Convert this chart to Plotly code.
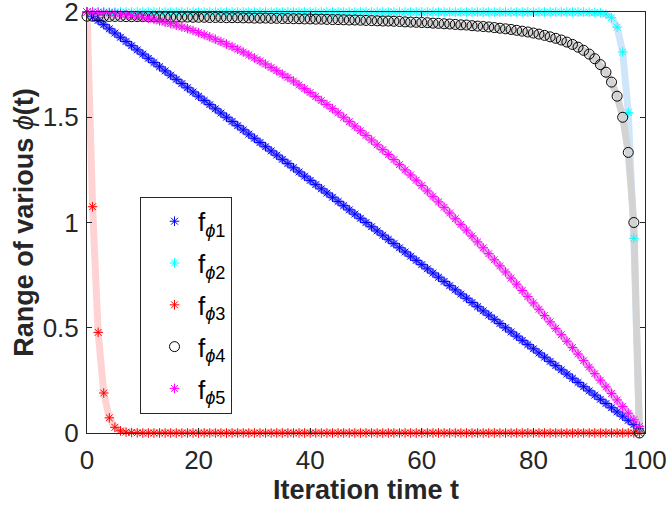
import plotly.graph_objects as go

# iteration index t = 0..99
t = list(range(100))

phi1 = [2.00,1.98,1.96,1.94,1.92,1.90,1.88,1.86,1.84,1.82,
        1.80,1.78,1.76,1.74,1.72,1.70,1.68,1.66,1.64,1.62,
        1.60,1.58,1.56,1.54,1.52,1.50,1.48,1.46,1.44,1.42,
        1.40,1.38,1.36,1.34,1.32,1.30,1.28,1.26,1.24,1.22,
        1.20,1.18,1.16,1.14,1.12,1.10,1.08,1.06,1.04,1.02,
        1.00,0.98,0.96,0.94,0.92,0.90,0.88,0.86,0.84,0.82,
        0.80,0.78,0.76,0.74,0.72,0.70,0.68,0.66,0.64,0.62,
        0.60,0.58,0.56,0.54,0.52,0.50,0.48,0.46,0.44,0.42,
        0.40,0.38,0.36,0.34,0.32,0.30,0.28,0.26,0.24,0.22,
        0.20,0.18,0.16,0.14,0.12,0.10,0.08,0.06,0.04,0.02]

phi2 = [2.000,2.000,2.000,2.000,2.000,2.000,2.000,2.000,2.000,2.000,
        2.000,2.000,2.000,2.000,2.000,2.000,2.000,2.000,2.000,2.000,
        2.000,2.000,2.000,2.000,2.000,2.000,2.000,2.000,2.000,2.000,
        2.000,2.000,2.000,2.000,2.000,2.000,2.000,2.000,2.000,2.000,
        2.000,2.000,2.000,2.000,2.000,2.000,2.000,2.000,2.000,2.000,
        2.000,2.000,2.000,2.000,2.000,2.000,2.000,2.000,2.000,2.000,
        2.000,2.000,2.000,2.000,2.000,2.000,2.000,2.000,2.000,2.000,
        2.000,2.000,2.000,2.000,2.000,2.000,2.000,2.000,2.000,2.000,
        2.000,2.000,2.000,2.000,2.000,2.000,2.000,2.000,2.000,2.000,
        1.999,1.998,1.996,1.990,1.973,1.928,1.810,1.522,0.925,0.000]

phi3 = [2.000,1.075,0.478,0.190,0.072,0.027,0.010,0.004,0.002,0.001,
        0.000,0.000,0.000,0.000,0.000,0.000,0.000,0.000,0.000,0.000,
        0.000,0.000,0.000,0.000,0.000,0.000,0.000,0.000,0.000,0.000,
        0.000,0.000,0.000,0.000,0.000,0.000,0.000,0.000,0.000,0.000,
        0.000,0.000,0.000,0.000,0.000,0.000,0.000,0.000,0.000,0.000,
        0.000,0.000,0.000,0.000,0.000,0.000,0.000,0.000,0.000,0.000,
        0.000,0.000,0.000,0.000,0.000,0.000,0.000,0.000,0.000,0.000,
        0.000,0.000,0.000,0.000,0.000,0.000,0.000,0.000,0.000,0.000,
        0.000,0.000,0.000,0.000,0.000,0.000,0.000,0.000,0.000,0.000,
        0.000,0.000,0.000,0.000,0.000,0.000,0.000,0.000,0.000,0.000]

phi4 = [1.980,1.980,1.980,1.979,1.979,1.979,1.979,1.978,1.978,1.978,
        1.978,1.978,1.977,1.977,1.977,1.976,1.976,1.976,1.976,1.975,
        1.975,1.975,1.974,1.974,1.974,1.973,1.973,1.973,1.972,1.972,
        1.971,1.971,1.971,1.970,1.970,1.969,1.969,1.968,1.968,1.967,
        1.967,1.966,1.966,1.965,1.964,1.964,1.963,1.962,1.962,1.961,
        1.960,1.959,1.958,1.957,1.957,1.956,1.955,1.953,1.952,1.951,
        1.950,1.949,1.947,1.946,1.944,1.943,1.941,1.939,1.938,1.935,
        1.933,1.931,1.929,1.926,1.923,1.920,1.917,1.913,1.909,1.905,
        1.900,1.895,1.889,1.882,1.875,1.867,1.857,1.846,1.833,1.818,
        1.800,1.778,1.750,1.714,1.667,1.600,1.500,1.333,1.000,0.000]

phi5 = [2.000,2.000,1.999,1.998,1.996,1.994,1.991,1.988,1.984,1.980,
        1.975,1.970,1.965,1.958,1.952,1.945,1.937,1.929,1.921,1.912,
        1.902,1.892,1.882,1.871,1.860,1.848,1.836,1.823,1.810,1.796,
        1.782,1.768,1.753,1.737,1.721,1.705,1.689,1.672,1.654,1.636,
        1.618,1.599,1.580,1.561,1.541,1.521,1.500,1.479,1.458,1.436,
        1.414,1.392,1.369,1.346,1.323,1.299,1.275,1.250,1.226,1.201,
        1.176,1.150,1.124,1.098,1.072,1.045,1.018,0.991,0.964,0.936,
        0.908,0.880,0.852,0.823,0.794,0.765,0.736,0.707,0.677,0.648,
        0.618,0.588,0.558,0.528,0.497,0.467,0.436,0.406,0.375,0.344,
        0.313,0.282,0.251,0.219,0.188,0.157,0.126,0.094,0.063,0.031]

series = [phi1, phi2, phi3, phi4, phi5]
names = ["f<sub><i>ϕ</i>1</sub>", "f<sub><i>ϕ</i>2</sub>", "f<sub><i>ϕ</i>3</sub>",
         "f<sub><i>ϕ</i>4</sub>", "f<sub><i>ϕ</i>5</sub>"]
band_colors = ["#8f8fff", "#cfe6fa", "#ffd3d3", "#d3d3d3", "#f2a6f2"]
marker_colors = ["#0000ff", "#00ffff", "#ff0000", "#000000", "#ff00ff"]
symbols = ["asterisk-open", "asterisk-open", "asterisk-open", "circle-open", "asterisk-open"]
sizes = [8, 8, 8, 10, 8]

fig = go.Figure()
for y, c in zip(series, band_colors):
    fig.add_trace(go.Scatter(x=t, y=y, mode="lines", line=dict(color=c, width=7),
                             showlegend=False, hoverinfo="skip", cliponaxis=False))
for i, (y, n, c, s, sz) in enumerate(zip(series, names, marker_colors, symbols, sizes)):
    fig.add_trace(go.Scatter(x=t, y=y, mode="markers", name=n, legendgroup=f"g{i}",
                             marker=dict(symbol=s, size=sz, color=c,
                                         line=dict(color=c, width=1)),
                             cliponaxis=False))

axis_common = dict(showline=True, linecolor="#262626", linewidth=1, mirror="allticks",
                   ticks="inside", ticklen=5, tickcolor="#262626", showgrid=False,
                   zeroline=False, automargin=False, ticklabeloverflow="allow",
                   tickfont=dict(family="Liberation Sans, Arial", size=26, color="#262626"))

fig.update_layout(
    width=668, height=512,
    margin=dict(l=87, r=23, t=12, b=79),
    plot_bgcolor="white", paper_bgcolor="white",
    font=dict(family="Liberation Sans, Arial", color="#262626"),
    xaxis=dict(range=[0, 100], tickvals=[0, 20, 40, 60, 80, 100], ticklabelstandoff=4,
               title=dict(text="<b>Iteration time t</b>", font=dict(size=27, color="#262626"), standoff=2),
               **axis_common),
    yaxis=dict(range=[0, 2], tickvals=[0, 0.5, 1, 1.5, 2], ticktext=["0", "0.5", "1", "1.5", "2"],
               ticklabelstandoff=2,
               title=dict(text="<b>Range of various </b><i>ϕ</i><b>(t)</b>", font=dict(size=27, color="#262626"), standoff=1),
               **axis_common),
    legend=dict(x=0.095, y=0.561, xanchor="left", yanchor="top",
                bgcolor="white", bordercolor="#262626", borderwidth=1,
                font=dict(family="Liberation Sans, Arial", size=26, color="#000000"),
                tracegroupgap=5, itemwidth=37, indentation=10),
)

# remove the default 8px page margin so the figure sits at the window's top-left corner
fig.write_html("out.html", config={"displayModeBar": False},
               post_script="document.body.style.margin='0';")
